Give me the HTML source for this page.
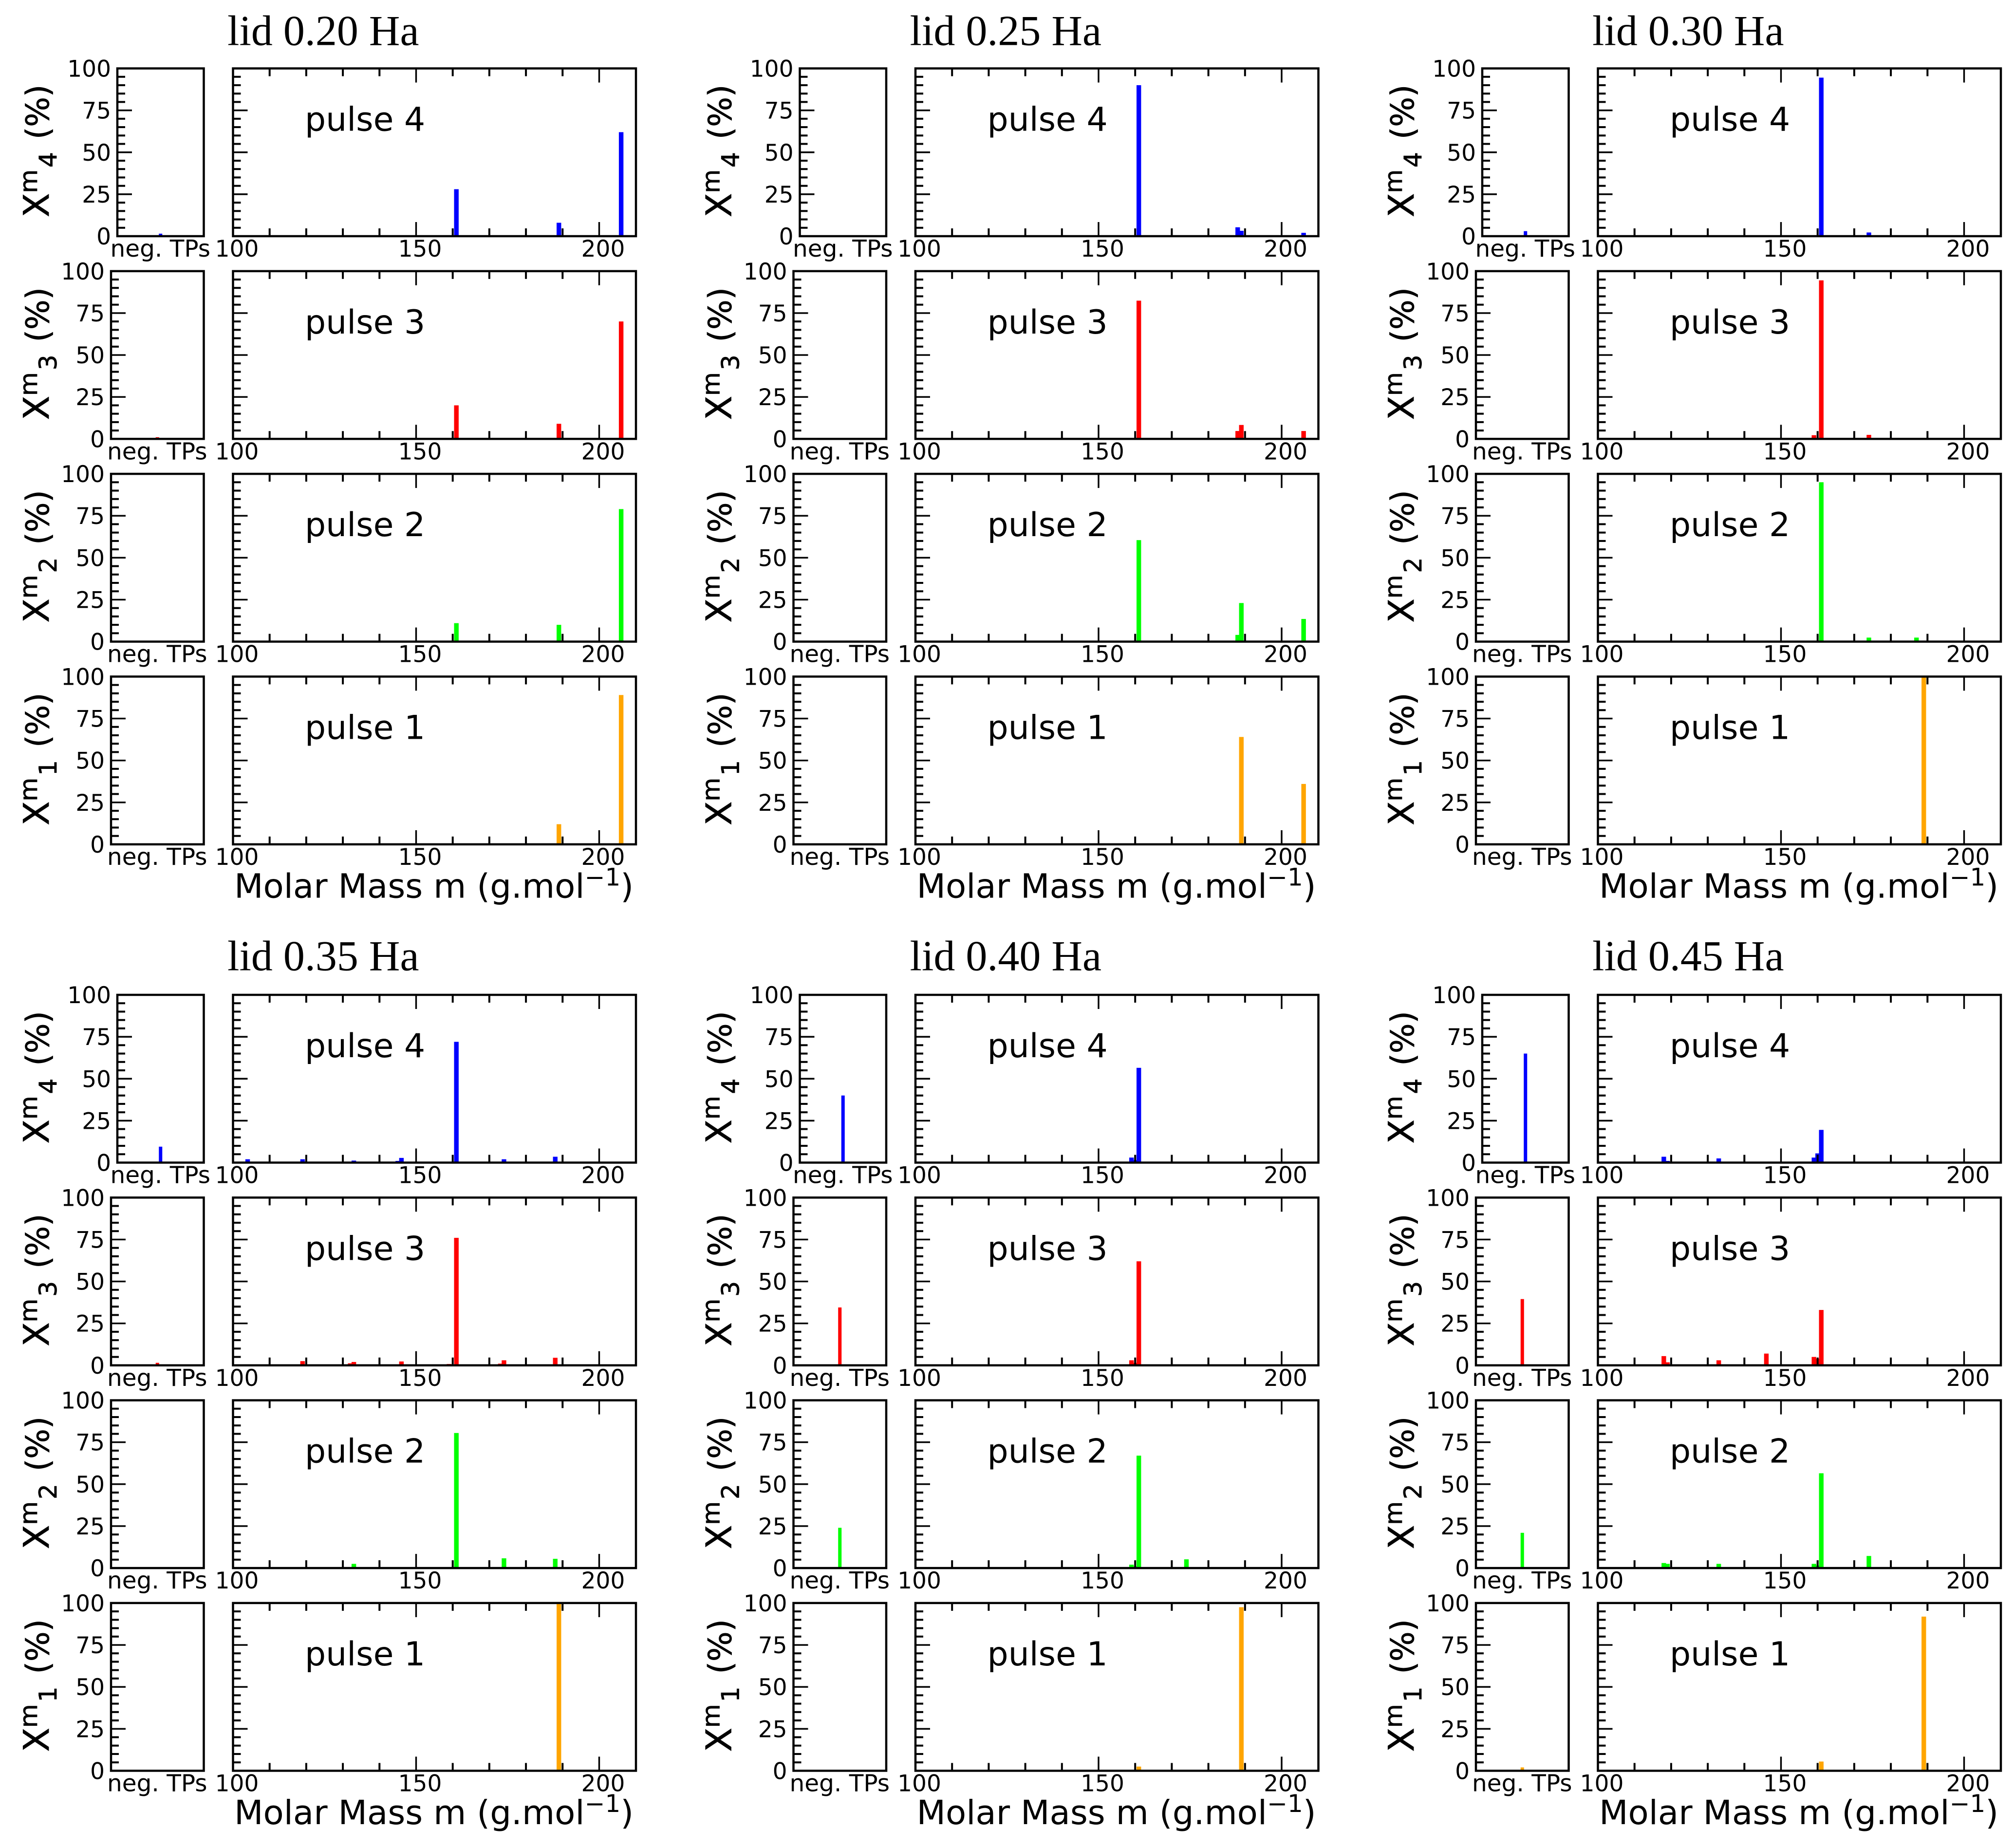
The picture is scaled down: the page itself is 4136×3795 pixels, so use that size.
<!DOCTYPE html>
<html lang="en">
<head>
<meta charset="utf-8">
<title>Mass spectra by lid energy and pulse</title>
<style>
html,body{margin:0;padding:0;background:#fff;width:4136px;height:3795px;overflow:hidden}
svg{display:block}
.tick-label{font-family:"DejaVu Sans","Liberation Sans",sans-serif;font-size:47px;fill:#000}
.neg-label{font-family:"DejaVu Sans","Liberation Sans",sans-serif;font-size:48.5px;fill:#000}
.pulse-text{font-family:"DejaVu Sans","Liberation Sans",sans-serif;font-size:68px;fill:#000}
.axis-title{font-family:"DejaVu Sans","Liberation Sans",sans-serif;font-size:69px;fill:#000}
.y-title{stroke:#000;stroke-width:0.8px}
.chart-title{font-family:"Liberation Serif",serif;font-size:88px;fill:#000}
</style>
</head>
<body>
<svg id="figure" xmlns="http://www.w3.org/2000/svg" width="4136" height="3795" viewBox="0 0 4136 3795">
<rect x="0" y="0" width="4136" height="3795" fill="#ffffff"/>
</svg>
<script>
// ---------- Labels ----------
const lidLabels = ["lid 0.20 Ha", "lid 0.25 Ha", "lid 0.30 Ha", "lid 0.35 Ha", "lid 0.40 Ha", "lid 0.45 Ha"];
const pulseLabels = ["pulse 4", "pulse 3", "pulse 2", "pulse 1"];
const pulseSubscripts = ["4", "3", "2", "1"];
const pulseColors = ["#0000ff", "#ff0000", "#00ff00", "#ffa500"];
const negLabel = "neg. TPs";
const yTickLabels = [0, 25, 50, 75, 100];
const yMinorTicks = [5, 10, 15, 20, 30, 35, 40, 45, 55, 60, 65, 70, 80, 85, 90, 95];
const xTickLabels = [100, 150, 200];
const xMinorTicks = [110, 120, 130, 140, 160, 170, 180, 190];

// ---------- Negative-TP values (pulse 4, 3, 2, 1) per lid ----------
const neg020 = [1.5, 1, 0, 0];
const neg025 = [0, 0, 0, 0];
const neg030 = [3, 0.5, 0, 0];
const neg035 = [9.5, 1.5, 0, 0];
const neg040 = [40, 34.5, 24, 0];
const neg045 = [65, 39.5, 21, 2];

// ---------- Molar masses and percentages per lid and pulse ----------
const m020p4 = [161, 189, 206];
const v020p4 = [28, 8, 62];
const m020p3 = [161, 189, 206];
const v020p3 = [20, 9, 70];
const m020p2 = [161, 189, 206];
const v020p2 = [11, 10, 79];
const m020p1 = [189, 206];
const v020p1 = [12, 89];

const m025p4 = [161, 188, 189, 206];
const v025p4 = [90, 5.3, 3.2, 2];
const m025p3 = [161, 188, 189, 206];
const v025p3 = [82.4, 4.7, 8.3, 4.7];
const m025p2 = [161, 188, 189, 206];
const v025p2 = [60.5, 4, 23, 13.5];
const m025p1 = [189, 206];
const v025p1 = [64, 36];

const m030p4 = [159, 161, 174];
const v030p4 = [0.5, 94.5, 2.2];
const m030p3 = [159, 161, 174];
const v030p3 = [2.2, 94.5, 2.4];
const m030p2 = [159, 161, 174, 187];
const v030p2 = [0.5, 95, 2.4, 2.4];
const m030p1 = [189];
const v030p1 = [100];

const m035p4 = [104, 119, 133, 145, 146, 159, 161, 174, 188];
const v035p4 = [2, 2, 1.2, 1, 2.8, 0.5, 72, 2, 3.5];
const m035p3 = [119, 132, 133, 146, 159, 161, 173, 174, 188];
const v035p3 = [2.5, 1.2, 2, 2.3, 0.8, 76, 1, 3, 4.5];
const m035p2 = [133, 161, 174, 188];
const v035p2 = [2.5, 80.5, 5.8, 5.5];
const m035p1 = [189];
const v035p1 = [100];

const m040p4 = [159, 160, 161];
const v040p4 = [3, 1.5, 56.5];
const m040p3 = [159, 160, 161];
const v040p3 = [3, 1.5, 62];
const m040p2 = [159, 160, 161, 174];
const v040p2 = [2, 1, 67, 5.2];
const m040p1 = [161, 189];
const v040p1 = [2.5, 97.5];

const m045p4 = [118, 119, 133, 159, 160, 161];
const v045p4 = [3.5, 1, 2.5, 3, 5.5, 19.5];
const m045p3 = [118, 119, 133, 146, 159, 160, 161];
const v045p3 = [5.5, 1.8, 3, 7, 5, 4, 33];
const m045p2 = [118, 119, 133, 159, 160, 161, 174];
const v045p2 = [3, 2.5, 2.5, 2.5, 1.5, 56.5, 7.2];
const m045p1 = [161, 189];
const v045p1 = [5.5, 91.9];

const negSeries = [neg020, neg025, neg030, neg035, neg040, neg045];
const massSeries = [
  [m020p4, m020p3, m020p2, m020p1],
  [m025p4, m025p3, m025p2, m025p1],
  [m030p4, m030p3, m030p2, m030p1],
  [m035p4, m035p3, m035p2, m035p1],
  [m040p4, m040p3, m040p2, m040p1],
  [m045p4, m045p3, m045p2, m045p1]
];
const valueSeries = [
  [v020p4, v020p3, v020p2, v020p1],
  [v025p4, v025p3, v025p2, v025p1],
  [v030p4, v030p3, v030p2, v030p1],
  [v035p4, v035p3, v035p2, v035p1],
  [v040p4, v040p3, v040p2, v040p1],
  [v045p4, v045p3, v045p2, v045p1]
];

// ---------- Layout ----------
const NS = "http://www.w3.org/2000/svg";
const figure = document.getElementById("figure");
const COL_OFFSET = 1401.5;
const GROUP_OFFSET = 1902.5;
const ROW_STEP = 416.3;
const FIRST_BOTTOM = 485;
const PANEL_H = 344.5;
const PX_PER_MASS = 7.52;
const MAIN_LEFT = 478.5;
const MAIN_RIGHT = 1306;
const NEG_RIGHT = 418.5;
const NEG_LEFT_TOP = 241;
const NEG_LEFT = 228;
const SPINE = 4.5;
const MINOR_TICK = 4;
const MAJOR_TICK = 3.4;

function make(parent, tag, attrs, text) {
  const el = document.createElementNS(NS, tag);
  for (const k in attrs) el.setAttribute(k, attrs[k]);
  if (text !== undefined) el.textContent = text;
  parent.appendChild(el);
  return el;
}
function xScale(mass, left) { return left + (mass - 100) * PX_PER_MASS; }
function yScale(value, bottom) { return bottom - value * PANEL_H / 100; }
function negScale(value, left, right) { return (left + right) / 2 + value; }

function drawFrame(g, left, right, top, bottom) {
  const frame = make(g, "rect", {x: left, y: top, width: right - left, height: bottom - top, fill: "none", stroke: "#000", "stroke-width": SPINE});
  
  
}
function drawYTicks(g, left, bottom) {
  yMinorTicks.forEach(function (v) {
    const t = make(g, "line", {x1: left, x2: left + 16, y1: yScale(v, bottom), y2: yScale(v, bottom), stroke: "#000", "stroke-width": MINOR_TICK});
    
    
  });
  yTickLabels.forEach(function (v) {
    const t = make(g, "line", {x1: left, x2: left + 30, y1: yScale(v, bottom), y2: yScale(v, bottom), stroke: "#000", "stroke-width": MAJOR_TICK});
    
    
  });
}

lidLabels.forEach(function (lid, li) {
  const col = li % 3;
  const dx = col * COL_OFFSET;
  const dy = li >= 3 ? GROUP_OFFSET : 0;
  const chart = make(figure, "g", {transform: "translate(" + dx + " " + dy + ")"});
  
  

  const title = make(chart, "text", {class: "chart-title", x: 467, y: li >= 3 ? 90 : 92.5}, lid);
  
  

  pulseLabels.forEach(function (pulse, pi) {
    const bottom = FIRST_BOTTOM + pi * ROW_STEP;
    const top = bottom - PANEL_H;
    const negLeft = pi === 0 ? NEG_LEFT_TOP : NEG_LEFT;
    const color = pulseColors[pi];

    // ---- Negative-TP panel ----
    const negPanel = make(chart, "g", {});
    
    
    const negValue = negSeries[li][pi];
    if (negValue > 0) {
      const yTop = yScale(negValue, bottom);
      const negBar = make(negPanel, "rect", {x: negScale(0, negLeft, NEG_RIGHT) - 3.5, y: yTop, width: 7, height: bottom - yTop, fill: color});
      
      
    }
    drawYTicks(negPanel, negLeft, bottom);
    drawFrame(negPanel, negLeft, NEG_RIGHT, top, bottom);
    yTickLabels.forEach(function (v) {
      const lab = make(negPanel, "text", {class: "tick-label", x: negLeft - 13, y: yScale(v, bottom) + 17, "text-anchor": "end"}, String(v));
      
      
    });
    const negText = make(negPanel, "text", {class: "neg-label", x: (negLeft + NEG_RIGHT) / 2 - 0.5, y: bottom + 42, "text-anchor": "middle"}, negLabel);
    
    

    // ---- Mass-spectrum panel ----
    const panel = make(chart, "g", {});
    
    
    const masses = massSeries[li][pi];
    const values = valueSeries[li][pi];
    masses.forEach(function (mass, i) {
      const yTop = yScale(values[i], bottom);
      const bar = make(panel, "rect", {x: xScale(mass, MAIN_LEFT) - 4.7, y: yTop, width: 9.4, height: bottom - yTop, fill: color});
      
      
    });
    drawYTicks(panel, MAIN_LEFT, bottom);
    xMinorTicks.forEach(function (m) {
      const x = xScale(m, MAIN_LEFT);
      const b = make(panel, "line", {x1: x, x2: x, y1: bottom, y2: bottom - 16, stroke: "#000", "stroke-width": MINOR_TICK});
      
      
      const u = make(panel, "line", {x1: x, x2: x, y1: top, y2: top + 16, stroke: "#000", "stroke-width": MINOR_TICK});
      
      
    });
    xTickLabels.forEach(function (m) {
      const x = xScale(m, MAIN_LEFT);
      const b = make(panel, "line", {x1: x, x2: x, y1: bottom, y2: bottom - 29, stroke: "#000", "stroke-width": MAJOR_TICK});
      
      
      const u = make(panel, "line", {x1: x, x2: x, y1: top, y2: top + 29, stroke: "#000", "stroke-width": MAJOR_TICK});
      
      
      const lab = make(panel, "text", {class: "tick-label", x: x + 8, y: bottom + 42, "text-anchor": "middle"}, String(m));
      
      
    });
    drawFrame(panel, MAIN_LEFT, MAIN_RIGHT, top, bottom);
    const pulseText = make(panel, "text", {class: "pulse-text", x: 626, y: top + 128}, pulse);
    
    

    // ---- Y axis title: X, superscript m, subscript pulse number, (%) ----
    const yBase = bottom - 39;
    const yTitle = make(chart, "text", {class: "axis-title y-title", transform: "rotate(-90 100 " + yBase + ")", x: 100, y: yBase});
    
    
    make(yTitle, "tspan", {"font-size": 72}, "X");
    make(yTitle, "tspan", {"font-size": 50, dy: -24}, "m");
    make(yTitle, "tspan", {"font-size": 50, dy: 40, dx: 4}, pulseSubscripts[pi]);
    make(yTitle, "tspan", {"font-size": 65, dy: -16, dx: 26}, "(%)");

    // ---- X axis title on the last row ----
    if (pi === 3) {
      const xTitle = make(chart, "text", {class: "axis-title", x: 481, y: bottom + 109.5});
      
      
      make(xTitle, "tspan", {}, "Molar Mass m (g.mol");
      make(xTitle, "tspan", {"font-size": 50, dy: -25}, "\u22121");
      make(xTitle, "tspan", {dy: 25}, ")");
    }
  });
});
</script>
</body>
</html>
